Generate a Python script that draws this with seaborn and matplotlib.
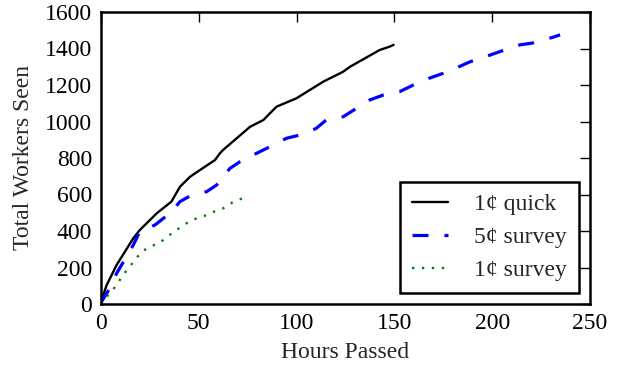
import matplotlib
matplotlib.use("Agg")
import matplotlib.pyplot as plt
import seaborn as sns

# 1c quick
quick_hours = [0, 0.3, 2.9, 8.0, 16.5, 19.8, 28.5, 36.0, 40.4, 42.1, 45.5, 50.6, 58.3, 60.8, 62.4, 76.2, 83.0, 89.7, 99.9, 113.6, 117.1, 122.2, 123.8, 127.3, 142.5, 147.5, 149.6]
quick_workers = [0, 22, 104, 214, 360, 405, 497, 561, 643, 661, 697, 734, 789, 826, 844, 971, 1008, 1081, 1127, 1218, 1237, 1264, 1273, 1300, 1392, 1410, 1420]

# 5c survey
s5_hours = [0, 0.3, 4.6, 8.0, 16.5, 19.8, 27.6, 35.3, 40.4, 45.5, 54.1, 59.1, 65.9, 71.1, 79.6, 86.4, 94.8, 101.7, 110.0, 115.1, 123.8, 137.4, 144.3, 152.6, 159.7, 167.8, 174.9, 183.0, 188.6, 198.9, 203.9, 214.2, 220.6, 231.2, 234.7]
s5_workers = [0, 13, 88, 168, 323, 396, 433, 498, 561, 592, 616, 652, 743, 780, 826, 862, 908, 926, 962, 1008, 1026, 1118, 1145, 1163, 1200, 1237, 1264, 1300, 1327, 1364, 1383, 1420, 1430, 1462, 1475]

# 1c survey
s1_hours = [0, 0.3, 4.6, 8.0, 10.7, 14.0, 17.3, 20.8, 25.1, 30.1, 34.4, 38.6, 42.9, 48.1, 53.1, 57.8, 62.4, 67.3, 72.2, 74.5]
s1_workers = [0, 13, 59, 104, 150, 196, 241, 287, 314, 336, 373, 405, 438, 466, 484, 506, 524, 557, 579, 585]

labels = ["1\u00a2 quick", "5\u00a2 survey", "1\u00a2 survey"]

sns.set_style("white")
plt.rcParams["font.family"] = ["Liberation Serif", "DejaVu Serif"]

fig = plt.figure(figsize=(6.19, 3.68), dpi=100)
ax = fig.add_axes([101 / 619, 64 / 368, 489 / 619, 292 / 368])

sns.lineplot(x=quick_hours, y=quick_workers, ax=ax, color="black", lw=1.7,
             label=labels[0], estimator=None, sort=False)
sns.lineplot(x=s5_hours, y=s5_workers, ax=ax, color="blue", lw=2.3,
             label=labels[1], estimator=None, sort=False, linestyle=(0, (5.0, 5.0)))
sns.lineplot(x=s1_hours, y=s1_workers, ax=ax, color="green", lw=1.7,
             label=labels[2], estimator=None, sort=False, linestyle=(0, (1, 3.2)))

ax.set_xlim(0, 250)
ax.set_ylim(0, 1600)
ax.set_xticks([0, 50, 100, 150, 200, 250])
ax.set_yticks(range(0, 1601, 200))
ax.tick_params(direction="in", length=7, width=1, top=True, right=True,
               labelsize=17, colors="black", pad=6.5)
for s in ax.spines.values():
    s.set_linewidth(1.8)
    s.set_color("black")
ax.set_xlabel("Hours Passed", fontsize=17, labelpad=5.5)
ax.set_ylabel("Total Workers Seen", fontsize=17, labelpad=8)

leg = ax.legend(loc="lower right", fontsize=17, frameon=True, fancybox=False,
                edgecolor="black", framealpha=1, handlelength=1.53,
                handletextpad=1.1, borderpad=0.5, borderaxespad=0.47,
                labelspacing=0.48)
leg.get_frame().set_linewidth(1.8)

fig.savefig("out.png", dpi=100)
